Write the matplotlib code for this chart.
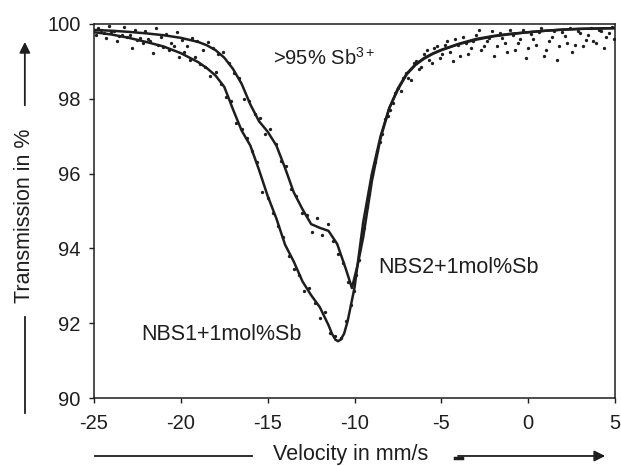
import numpy as np
import matplotlib
matplotlib.use('Agg')
import matplotlib.pyplot as plt

plt.rcParams['font.family'] = ['Liberation Sans', 'DejaVu Sans']
plt.rcParams['mathtext.fontset'] = 'custom'
plt.rcParams['mathtext.rm'] = 'Liberation Sans'
plt.rcParams['mathtext.it'] = 'Liberation Sans'
plt.rcParams['mathtext.bf'] = 'Liberation Sans'
plt.rcParams['axes.unicode_minus'] = False

INK = '#1e1e1e'

# fitted curves
fit1_x = [-25, -24, -23, -22, -21, -20, -19, -18.5, -18, -17.5, -17, -16.5, -16, -15.5, -15,
          -14.5, -14, -13.5, -13, -12.5, -12, -11.5, -11.3, -11.1, -10.95, -10.8, -10.6,
          -10.4, -10.2, -10, -9.5, -9, -8.5, -8, -7.5, -7, -6.5, -6, -5.5, -5, -4, -3, -2, -1,
          0, 1, 2, 3, 4, 5]
fit1_y = [99.78, 99.72, 99.63, 99.52, 99.40, 99.22, 98.98, 98.82, 98.62, 98.32, 97.72, 97.15,
          96.75, 96.10, 95.40, 94.80, 94.10, 93.65, 93.12, 92.75, 92.43, 91.95, 91.72, 91.56,
          91.52, 91.56, 91.72, 92.05, 92.50, 92.95, 94.70, 96.00, 97.00, 97.75, 98.28, 98.67,
          98.92, 99.09, 99.21, 99.31, 99.47, 99.60, 99.68, 99.74, 99.78, 99.82, 99.85, 99.87,
          99.88, 99.89]

fit2_x = [-25, -24, -23, -22, -21, -20, -19, -18.5, -18, -17.5, -17, -16.5, -16, -15.5, -15,
          -14.5, -14, -13.5, -13, -12.5, -12, -11.5, -11, -10.5, -10.15, -9.8, -9.5, -9,
          -8.5, -8, -7.5, -7, -6.5, -6, -5.5, -5, -4, -3, -2, -1, 0, 1, 2, 3, 4, 5]
fit2_y = [99.84, 99.82, 99.79, 99.75, 99.70, 99.63, 99.52, 99.43, 99.30, 99.10, 98.80, 98.40,
          97.85, 97.40, 97.12, 96.75, 96.15, 95.50, 95.05, 94.65, 94.55, 94.47, 94.12, 93.45,
          92.94, 93.60, 94.30, 95.80, 96.95, 97.75, 98.25, 98.65, 98.90, 99.07, 99.20, 99.30,
          99.46, 99.58, 99.67, 99.73, 99.78, 99.82, 99.85, 99.87, 99.88, 99.89]

# measured points
pts1_x = [-24.9, -24.6, -24.3, -24.0, -23.7, -23.4, -23.1, -22.8, -22.5, -22.2, -21.9, -21.6,
          -21.3, -21.0, -20.7, -20.4, -20.1, -19.8, -19.5, -19.2, -18.9, -18.6, -18.3, -18.0,
          -17.7, -17.4, -17.1, -16.8, -16.5, -16.2, -15.9, -15.6, -15.3, -15.0, -14.7, -14.4,
          -14.1, -13.8, -13.5, -13.2, -12.9, -12.6, -12.3, -12.0, -11.7, -11.4, -11.1, -10.8,
          -10.5, -10.2, -9.9, -9.6, -9.3, -9.0, -8.7, -8.4, -8.1, -7.8, -7.5, -7.2, -6.9, -6.6,
          -6.3, -6.0, -5.7, -5.4, -5.1, -4.8, -4.5, -4.2, -3.9, -3.6, -3.3, -3.0, -2.7, -2.4,
          -2.1, -1.8, -1.5, -1.2, -0.9, -0.6, -0.3, 0.0, 0.3, 0.6, 0.9, 1.2, 1.5, 1.8, 2.1, 2.4,
          2.7, 3.0, 3.3, 3.6, 3.9, 4.2, 4.5, 4.8]
pts1_y = [99.70, 99.85, 99.62, 99.78, 99.55, 99.70, 99.66, 99.35, 99.58, 99.49, 99.60, 99.22,
          99.45, 99.38, 99.30, 99.41, 99.12, 99.25, 99.05, 99.12, 98.92, 98.85, 98.60, 98.72,
          98.40, 98.05, 97.95, 97.35, 97.20, 96.95, 96.60, 96.30, 95.50, 95.35, 94.95, 94.60,
          94.30, 93.80, 93.45, 93.30, 92.85, 92.95, 92.55, 92.15, 92.30, 91.75, 91.65, 91.60,
          92.05, 92.50, 93.30, 94.25, 95.10, 95.95, 96.60, 97.05, 97.55, 97.90, 98.30, 98.55,
          98.55, 98.95, 98.80, 99.20, 99.05, 99.35, 99.10, 99.45, 99.25, 99.60, 99.15, 99.50,
          99.35, 99.70, 99.30, 99.55, 99.80, 99.40, 99.62, 99.25, 99.70, 99.48, 99.85, 99.35,
          99.60, 99.78, 99.15, 99.55, 99.82, 99.40, 99.68, 99.88, 99.45, 99.75, 99.58, 99.90,
          99.50, 99.80, 99.65, 99.92]

pts2_x = [-24.75, -24.45, -24.15, -23.85, -23.55, -23.25, -22.95, -22.65, -22.35, -22.05,
          -21.75, -21.45, -21.15, -20.85, -20.55, -20.25, -19.95, -19.65, -19.35, -19.05,
          -18.75, -18.45, -18.15, -17.85, -17.55, -17.25, -16.95, -16.65, -16.35, -16.05,
          -15.75, -15.45, -15.15, -14.85, -14.55, -14.25, -13.95, -13.65, -13.35, -13.05,
          -12.75, -12.45, -12.15, -11.85, -11.55, -11.25, -10.95, -10.65, -10.35, -10.05,
          -9.75, -9.45, -9.15, -8.85, -8.55, -8.25, -7.95, -7.65, -7.35, -7.05, -6.75, -6.45,
          -6.15, -5.85, -5.55, -5.25, -4.95, -4.65, -4.35, -4.05, -3.75, -3.45, -3.15, -2.85,
          -2.55, -2.25, -1.95, -1.65, -1.35, -1.05, -0.75, -0.45, -0.15, 0.15, 0.45, 0.75,
          1.05, 1.35, 1.65, 1.95, 2.25, 2.55, 2.85, 3.15, 3.45, 3.75, 4.05, 4.35, 4.65, 4.95]
pts2_y = [99.90, 99.75, 99.95, 99.80, 99.68, 99.92, 99.70, 99.85, 99.62, 99.80, 99.55, 99.88,
          99.65, 99.72, 99.50, 99.78, 99.58, 99.40, 99.62, 99.55, 99.30, 99.52, 99.35, 99.20,
          99.25, 98.95, 98.70, 98.55, 98.00, 97.95, 97.60, 97.50, 97.05, 97.20, 96.80, 96.35,
          96.20, 95.60, 95.40, 94.95, 94.90, 94.45, 94.80, 94.35, 94.65, 94.20, 93.85, 93.60,
          93.10, 92.85, 93.70, 94.55, 95.45, 96.30, 96.85, 97.45, 97.70, 98.15, 98.20, 98.70,
          98.50, 99.00, 98.85, 99.30, 98.95, 99.40, 99.20, 99.55, 99.00, 99.45, 99.65, 99.20,
          99.55, 99.85, 99.40, 99.62, 99.15, 99.75, 99.50, 99.85, 99.30, 99.60, 99.10, 99.72,
          99.45, 99.88, 99.30, 99.65, 99.05, 99.78, 99.50, 99.25, 99.80, 99.40, 99.70, 99.55,
          99.85, 99.35, 99.75, 99.60]

fig = plt.figure(figsize=(6.21, 4.66), dpi=100)
ax = fig.add_axes([0.1514, 0.1459, 0.839, 0.8026])

ax.plot(pts1_x, pts1_y, 'o', ms=2.4, color=INK, mew=0)
ax.plot(pts2_x, pts2_y, 'o', ms=2.4, color=INK, mew=0)
ax.plot(fit1_x, fit1_y, '-', lw=1.8, color=INK, solid_joinstyle='round')
ax.plot(fit2_x, fit2_y, '-', lw=1.8, color=INK, solid_joinstyle='round')

ax.set_xlim(-25, 5)
ax.set_ylim(90, 100)
ax.set_xticks([-25, -20, -15, -10, -5, 0, 5])
ax.set_yticks([90, 92, 94, 96, 98, 100])
ax.tick_params(direction='out', length=3.5, width=1, colors=INK, labelsize=14.5, pad=6)
ax.tick_params(axis='x', pad=8)
for s in ax.spines.values():
    s.set_linewidth(1.1)
    s.set_color(INK)

ax.text(-14.7, 99.1, '>95% Sb$^{3+}$', fontsize=14.5, color=INK, va='center', ha='left')
ax.text(-8.65, 93.5, 'NBS2+1mol%Sb', fontsize=15.5, color=INK, va='center', ha='left')
ax.text(-22.3, 91.7, 'NBS1+1mol%Sb', fontsize=15.5, color=INK, va='center', ha='left')

# axis labels with the arrow lines
fig.text(0.040, 0.536, 'Transmission in %', rotation=90, fontsize=15.5, color=INK,
         ha='center', va='center')
fig.add_artist(plt.Line2D([0.040, 0.040], [0.114, 0.320], color=INK, lw=1.3))
fig.add_artist(matplotlib.patches.FancyArrowPatch((0.040, 0.768), (0.040, 0.916),
               transform=fig.transFigure, arrowstyle='-|>', mutation_scale=16,
               color=INK, lw=1.3))

fig.text(0.565, 0.024, 'Velocity in mm/s', fontsize=15.5, color=INK, ha='center', va='center')
fig.add_artist(plt.Line2D([0.153, 0.406], [0.0215, 0.0215], color=INK, lw=1.3))
fig.add_artist(matplotlib.patches.FancyArrowPatch((0.733, 0.0215), (0.979, 0.0215),
               transform=fig.transFigure, arrowstyle='-|>', mutation_scale=16,
               color=INK, lw=1.3))
fig.add_artist(plt.Line2D([0.733, 0.744], [0.018, 0.018], color=INK, lw=2.5))

fig.savefig('out.png', dpi=100)
